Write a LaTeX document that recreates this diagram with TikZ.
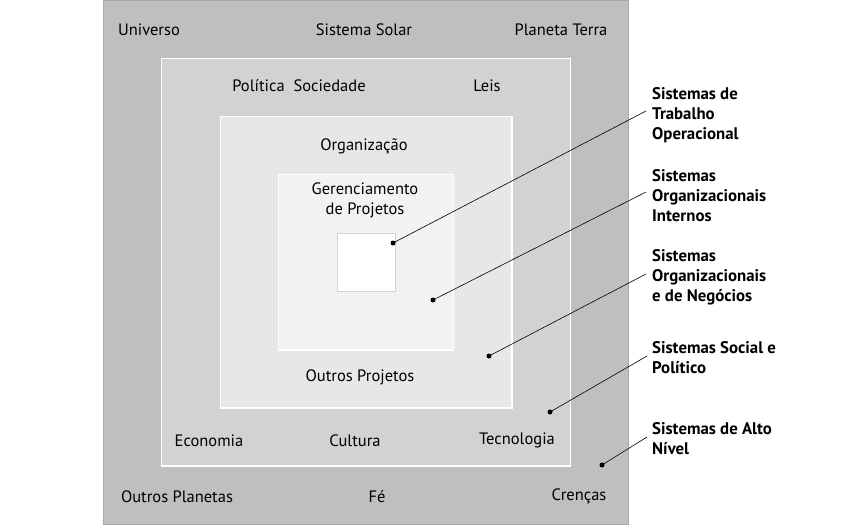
\documentclass[tikz,border=0pt]{standalone}
\usepackage{fontspec}
\setmainfont{PT Sans}
\definecolor{c1}{HTML}{BEBFC1}
\definecolor{c1b}{HTML}{A7A9AC}
\definecolor{c2}{HTML}{D1D2D4}
\definecolor{c3}{HTML}{E6E7E8}
\definecolor{c4}{HTML}{F1F2F2}
\begin{document}
\begin{tikzpicture}[x=1pt,y=-1pt,
  box/.style={draw=white,line width=1.2pt},
  word/.style={font=\fontsize{16.5}{20}\selectfont,inner sep=0pt},
  lab/.style={font=\bfseries\fontsize{16.8}{20}\selectfont,align=left,anchor=west,inner sep=0pt},
  dot/.style={circle,fill=black,inner sep=0pt,minimum size=5pt},
  conn/.style={draw=black,line width=0.6pt}]
\useasboundingbox (0,0) rectangle (845,531);
\fill[white] (0,0) rectangle (845,531);
% boxes
\draw[fill=c1,draw=c1b,line width=0.8pt] (103.5,0.5) rectangle (628.5,524);
\draw[box,fill=c2] (161.5,58.5) rectangle (570.5,466);
\draw[box,fill=c3] (220.5,116.5) rectangle (512,408);
\draw[box,fill=c4] (278.5,174.5) rectangle (453.5,350);
\draw[fill=white,draw=c2,line width=1pt] (337,233) rectangle (395.5,291);
% words
\node[word] (u) at (149,29.5) {Universo};
\node[word] (ss) at (364,29.5) {Sistema Solar};
\node[word] (pt) at (561,29.5) {Planeta Terra};
\node[word] (ps) at (299,85.5) {Política\ \ Sociedade};
\node[word] (le) at (487,85.5) {Leis};
\node[word] (or) at (364,146.5) {Organização};
\node[word,align=center] (gp) at (365,200.5) {Gerenciamento\\de Projetos};
\node[word] (op) at (360,377.5) {Outros Projetos};
\node[word] (ec) at (209,440.5) {Economia};
\node[word] (cu) at (355,440.5) {Cultura};
\node[word] (te) at (517,440.5) {Tecnologia};
\node[word] (opl) at (177,496.5) {Outros Planetas};
\node[word] (fe) at (377,496.5) {Fé};
\node[word] (cr) at (579,496.5) {Crenças};
% labels
\node[lab] (l1) at (652,115) {Sistemas de\\Trabalho\\Operacional};
\node[lab] (l2) at (652,196) {Sistemas\\Organizacionais\\Internos};
\node[lab] (l3) at (652,277) {Sistemas\\Organizacionais\\e de Negócios};
\node[lab] (l4) at (652,358) {Sistemas Social e\\Político};
\node[lab] (l5) at (652,439) {Sistemas de Alto\\Nível};
% dots
\node[dot] (d1) at (393,243) {};
\node[dot] (d2) at (433,300) {};
\node[dot] (d3) at (489,356) {};
\node[dot] (d4) at (550,412) {};
\node[dot] (d5) at (602,465) {};
\draw[conn] (d1.center) -- ([xshift=-6pt,yshift=4pt]l1.west);
\draw[conn] (d2.center) -- ([xshift=-6pt,yshift=4pt]l2.west);
\draw[conn] (d3.center) -- ([xshift=-6pt,yshift=3pt]l3.west);
\draw[conn] (d4.center) -- ([xshift=-5pt,yshift=2pt]l4.west);
\draw[conn] (d5.center) -- ([xshift=-5pt,yshift=2pt]l5.west);
\end{tikzpicture}
\end{document}
